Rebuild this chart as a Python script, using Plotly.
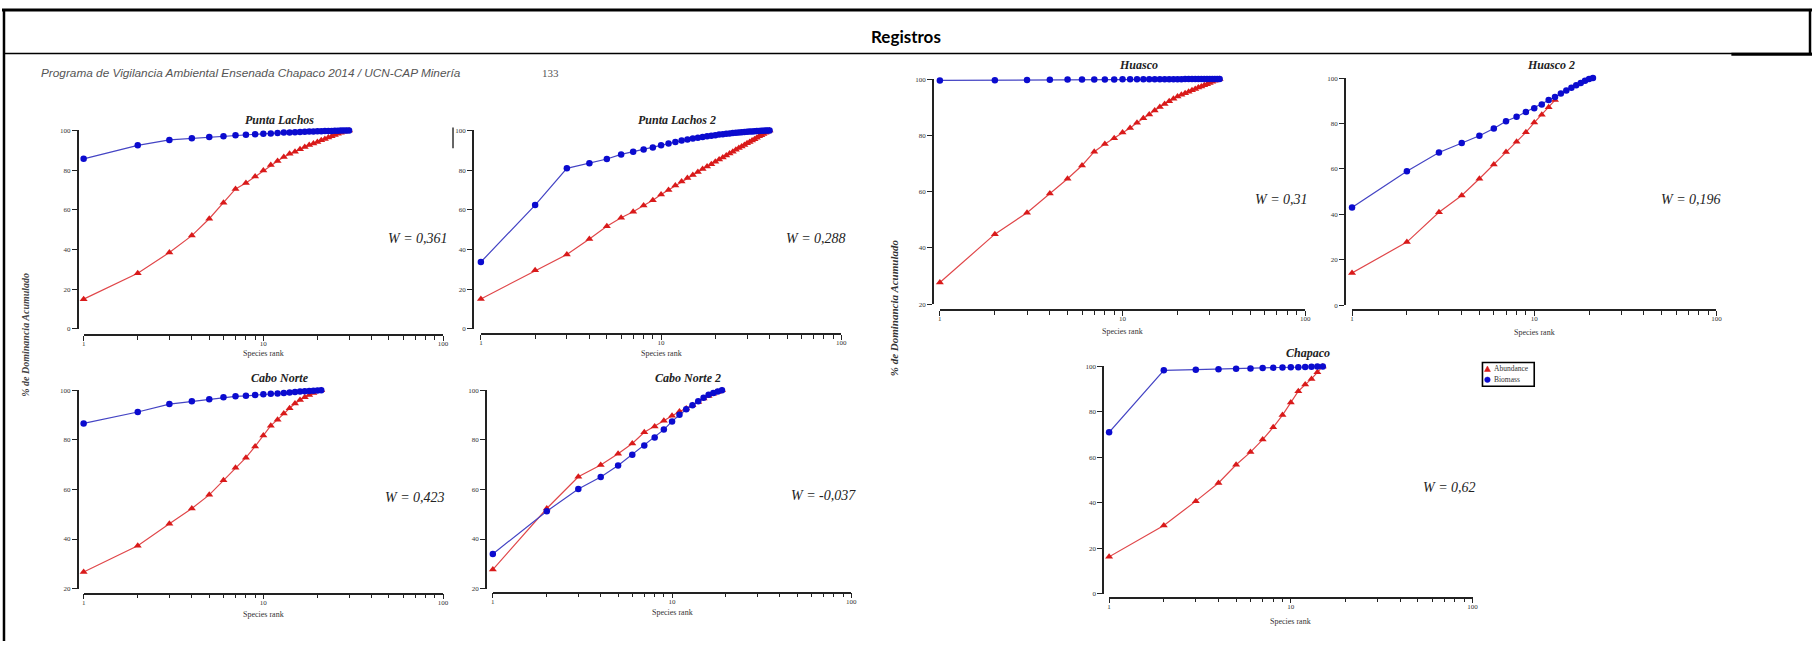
import plotly.graph_objects as go

# ---------------- DATA ----------------
panel_names = ["Punta Lachos", "Punta Lachos 2", "Cabo Norte", "Cabo Norte 2", "Huasco", "Huasco 2", "Chapaco"]
w_labels = ["W = 0,361", "W = 0,288", "W = 0,423", "W = -0,037", "W = 0,31", "W = 0,196", "W = 0,62"]
legend_labels = ["Abundance", "Biomass"]

pl_abund = [15, 28, 38.5, 47, 55.5, 63.5, 70.5, 73.5, 76.8, 79.8, 82.6, 84.6, 86.6, 88.2, 89.3, 90.5,
            91.6, 92.6, 93.4, 94.2, 95.0, 95.7, 96.4, 97.1, 97.7, 98.3, 98.8, 99.3, 99.7, 100]
pl_biom = [85.7, 92.5, 95.2, 96.0, 96.7, 97.0, 97.5, 97.8, 98.1, 98.3, 98.5, 98.7, 98.9, 99.0, 99.1,
           99.2, 99.3, 99.4, 99.5, 99.55, 99.6, 99.65, 99.7, 99.75, 99.8, 99.85, 99.9, 99.95, 99.98, 100]

pl2_abund = [15.1, 29.5, 37.5, 45.3, 51.7, 56.0, 59.0, 62.2, 64.8, 67.7, 70.0, 72.3, 74.3, 76.0, 77.6,
             79.1, 80.5, 81.8, 83.0, 84.2, 85.3, 86.4, 87.4, 88.4, 89.3, 90.2, 91.1, 91.9, 92.7, 93.5,
             94.2, 94.9, 95.6, 96.3, 97.0, 97.6, 98.2, 98.8, 99.4, 100]
pl2_biom = [33.7, 62.4, 80.9, 83.4, 85.6, 87.9, 89.2, 90.4, 91.4, 92.5, 93.4, 94.2, 94.9, 95.4, 95.9,
            96.3, 96.7, 97.0, 97.3, 97.6, 97.9, 98.1, 98.3, 98.5, 98.7, 98.85, 99.0, 99.1, 99.2, 99.3,
            99.4, 99.5, 99.6, 99.65, 99.7, 99.8, 99.85, 99.9, 99.95, 100]

cn_abund = [26.7, 37.3, 46.2, 52.3, 57.8, 63.7, 68.7, 72.8, 77.3, 81.7, 85.7, 88.1, 90.6, 92.7, 94.6,
            96.0, 97.1, 98.0, 98.9, 99.6, 100]
cn_biom = [86.6, 91.2, 94.4, 95.5, 96.3, 97.1, 97.5, 97.7, 98.0, 98.3, 98.5, 98.7, 98.9, 99.1, 99.3,
           99.5, 99.6, 99.7, 99.8, 99.9, 100]

cn2_abund = [27.7, 52.3, 65.1, 69.8, 74.4, 78.5, 83.0, 85.4, 87.7, 89.7, 91.4, 92.6, 93.9, 95.2, 96.6,
             97.6, 98.5, 99.3, 100]
cn2_biom = [34.0, 51.2, 60.2, 65.0, 69.6, 74.0, 77.7, 80.9, 84.1, 87.4, 90.1, 92.3, 93.9, 95.5, 96.9,
            98.1, 98.9, 99.5, 100]

hu_abund = [27.7, 44.9, 52.5, 59.3, 64.6, 69.3, 74.2, 76.9, 79.0, 81.0, 82.6, 84.5, 86.1, 87.4, 88.8,
            90.1, 91.1, 92.1, 93.0, 93.8, 94.4, 95.0, 95.5, 96.0, 96.5, 97.0, 97.4, 97.8, 98.2, 98.6,
            99.0, 99.4, 99.7, 100]
hu_biom = [99.5, 99.6, 99.7, 99.75, 99.8, 99.82, 99.84, 99.86, 99.88, 99.9, 99.91, 99.92, 99.93, 99.94,
           99.95, 99.95, 99.96, 99.96, 99.97, 99.97, 99.97, 99.98, 99.98, 99.98, 99.98, 99.99, 99.99,
           99.99, 99.99, 99.99, 100, 100, 100, 100]

hu2_abund = [14.2, 27.8, 40.9, 48.3, 55.7, 61.9, 67.4, 72.0, 76.1, 80.4, 83.9, 87.2, 90.3]
hu2_biom = [43.0, 59.0, 67.2, 71.4, 74.6, 77.8, 81.0, 83.0, 85.1, 86.7, 88.4, 90.3, 91.7, 93.2, 94.5,
            95.7, 96.8, 97.8, 98.8, 99.6, 100]

ch_abund = [16.2, 30.0, 40.7, 48.7, 56.7, 62.3, 67.8, 73.2, 78.6, 84.1, 89.1, 92.0, 94.5, 97.4, 100]
ch_biom = [71.0, 98.3, 98.6, 98.8, 99.0, 99.1, 99.3, 99.4, 99.5, 99.6, 99.7, 99.8, 99.9, 100, 100]

abund_series = [pl_abund, pl2_abund, cn_abund, cn2_abund, hu_abund, hu2_abund, ch_abund]
biom_series = [pl_biom, pl2_biom, cn_biom, cn2_biom, hu_biom, hu2_biom, ch_biom]
y_mins = [0, 0, 20, 20, 20, 0, 0]

x_major = [1, 10, 100]
x_major_text = ["1", "10", "100"]
x_minor = [2, 3, 4, 5, 6, 7, 8, 9, 20, 30, 40, 50, 60, 70, 80, 90]

# ---------------- LAYOUT (pixel geometry) ----------------
W, H = 1818, 645
def fx(px): return px / W
def fy(py): return 1 - py / H

geom = [
    dict(x1=82, x100=443, yt=128, yb=329, yax=76, xax=335, tx=279, ty=117, wx=418, wy=237, sy=353),
    dict(x1=481, x100=843, yt=128, yb=329, yax=473, xax=334, tx=678, ty=117, wx=818, wy=237, sy=353),
    dict(x1=82, x100=443, yt=391, yb=592, yax=76, xax=597, tx=279, ty=379, wx=415, wy=500, sy=617),
    dict(x1=493, x100=853, yt=391, yb=592, yax=486, xax=596, tx=689, ty=379, wx=825, wy=498, sy=615),
    dict(x1=942, x100=1309, yt=76, yb=304, yax=935, xax=310, tx=1142, ty=62, wx=1285, wy=198, sy=331),
    dict(x1=1356, x100=1722, yt=75, yb=305, yax=1349, xax=310, tx=1556, ty=62, wx=1696, wy=198, sy=332),
    dict(x1=1112, x100=1477, yt=367, yb=597, yax=1106, xax=601, tx=1312, ty=353, wx=1454, wy=490, sy=624),
]

RED_M, RED_L = "#D91A1A", "#E0474A"
BLUE_M, BLUE_L = "#0B0BCF", "#4444C4"
SERIF = "Liberation Serif, Times New Roman, serif"

fig = go.Figure()
layout = dict(
    width=W, height=H, autosize=False,
    margin=dict(l=0, r=0, t=0, b=0),
    paper_bgcolor="white", plot_bgcolor="rgba(0,0,0,0)",
    showlegend=False,
)
annotations = []
shapes = []

for i, g in enumerate(geom):
    k = i + 1
    xa = "x" if k == 1 else f"x{k}"
    ya = "y" if k == 1 else f"y{k}"
    ranks_a = list(range(1, len(abund_series[i]) + 1))
    ranks_b = list(range(1, len(biom_series[i]) + 1))
    fig.add_trace(go.Scatter(
        x=ranks_a, y=abund_series[i], mode="lines+markers", name=legend_labels[0],
        xaxis=xa, yaxis=ya, cliponaxis=False,
        line=dict(color=RED_L, width=1.2),
        marker=dict(symbol="triangle-up", size=7, color=RED_M),
    ))
    fig.add_trace(go.Scatter(
        x=ranks_b, y=biom_series[i], mode="lines+markers", name=legend_labels[1],
        xaxis=xa, yaxis=ya, cliponaxis=False,
        line=dict(color=BLUE_L, width=1.2),
        marker=dict(symbol="circle", size=6.5, color=BLUE_M),
    ))
    ymin = y_mins[i]
    layout["xaxis" if k == 1 else f"xaxis{k}"] = dict(
        type="log", range=[0, 2], domain=[fx(g["x1"]), fx(g["x100"])],
        anchor="free", position=fy(g["xax"]),
        showline=True, linecolor="#222", linewidth=1.6,
        tickmode="array", tickvals=x_major, ticktext=x_major_text,
        ticks="outside", ticklen=5, tickwidth=1.3, tickcolor="#222",
        ticklabelstandoff=-3,
        minor=dict(tickmode="array", tickvals=x_minor, ticks="outside", ticklen=4,
                   tickwidth=1, tickcolor="#222", showgrid=False),
        showgrid=False, zeroline=False, fixedrange=True,
        tickfont=dict(family=SERIF, size=7, color="#333"),
    )
    layout["yaxis" if k == 1 else f"yaxis{k}"] = dict(
        range=[ymin, 100], domain=[fy(g["yb"]), fy(g["yt"])],
        anchor="free", position=fx(g["yax"]),
        showline=True, linecolor="#222", linewidth=1.6,
        tickmode="array", tickvals=list(range(ymin, 101, 20)),
        ticks="outside", ticklen=5, tickwidth=1.3, tickcolor="#222",
        showgrid=False, zeroline=False, fixedrange=True,
        tickfont=dict(family=SERIF, size=7, color="#333"),
    )
    xmid = (g["x1"] + g["x100"]) / 2
    annotations.append(dict(
        text=f"<b><i>{panel_names[i]}</i></b>", x=fx(g["tx"]), y=fy(g["ty"]),
        xref="paper", yref="paper", showarrow=False, xanchor="center", yanchor="middle",
        font=dict(family=SERIF, size=12, color="#222"),
    ))
    annotations.append(dict(
        text=f"<i>{w_labels[i]}</i>", x=fx(g["wx"]), y=fy(g["wy"]),
        xref="paper", yref="paper", showarrow=False, xanchor="center", yanchor="middle",
        font=dict(family=SERIF, size=14, color="#222"),
    ))
    annotations.append(dict(
        text="Species rank", x=fx(xmid), y=fy(g["sy"] + 1),
        xref="paper", yref="paper", showarrow=False, xanchor="center", yanchor="middle",
        font=dict(family=SERIF, size=8, color="#333"),
    ))

# header texts
annotations += [
    dict(text="<b>Registros</b>", x=fx(908), y=fy(33), xref="paper", yref="paper",
         showarrow=False, xanchor="center", yanchor="middle",
         font=dict(family="Lato, Open Sans, sans-serif", size=17, color="black")),
    dict(text="<i>Programa de Vigilancia Ambiental Ensenada Chapaco 2014 / UCN-CAP Minería</i>",
         x=fx(37), y=fy(70), xref="paper", yref="paper", showarrow=False,
         xanchor="left", yanchor="middle",
         font=dict(family="Liberation Sans, Arial, sans-serif", size=11.8, color="#555")),
    dict(text="133", x=fx(551), y=fy(70), xref="paper", yref="paper", showarrow=False,
         xanchor="center", yanchor="middle",
         font=dict(family=SERIF, size=11, color="#555")),
    dict(text="<b><i>% de Dominancia Acumulado</i></b>", x=fx(24), y=fy(335), textangle=-90,
         xref="paper", yref="paper", showarrow=False, xanchor="center", yanchor="middle",
         font=dict(family=SERIF, size=10, color="#444")),
    dict(text="<b><i>% de Dominancia Acumulado</i></b>", x=fx(896), y=fy(308), textangle=-90,
         xref="paper", yref="paper", showarrow=False, xanchor="center", yanchor="middle",
         font=dict(family=SERIF, size=11, color="#333")),
]

# legend (Chapaco panel), drawn as a small boxed key
lg_x0, lg_x1, lg_y0, lg_y1 = 1487, 1539, 363, 387
annotations += [
    dict(text=legend_labels[0], x=fx(lg_x0 + 10), y=fy(lg_y0 + 6.5), xref="paper", yref="paper",
         showarrow=False, xanchor="left", yanchor="middle",
         font=dict(family=SERIF, size=7.5, color="#333")),
    dict(text=legend_labels[1], x=fx(lg_x0 + 10), y=fy(lg_y0 + 17.5), xref="paper", yref="paper",
         showarrow=False, xanchor="left", yanchor="middle",
         font=dict(family=SERIF, size=7.5, color="#333")),
]

def pline(x0, y0, x1, y1, w, c="black"):
    return dict(type="line", xref="paper", yref="paper",
                x0=fx(x0), y0=fy(y0), x1=fx(x1), y1=fy(y1), line=dict(color=c, width=w))

tx, ty = lg_x0 + 5, lg_y0 + 6.5
shapes += [
    dict(type="rect", xref="paper", yref="paper", x0=fx(lg_x0), x1=fx(lg_x1), y0=fy(lg_y1), y1=fy(lg_y0),
         line=dict(color="black", width=1.6), fillcolor="white"),
    dict(type="path", xref="paper", yref="paper",
         path=f"M {fx(tx-3)} {fy(ty+2.6)} L {fx(tx+3)} {fy(ty+2.6)} L {fx(tx)} {fy(ty-3)} Z",
         line=dict(color=RED_M, width=0.5), fillcolor=RED_M),
    dict(type="circle", xref="paper", yref="paper",
         x0=fx(tx - 2.8), x1=fx(tx + 2.8), y0=fy(lg_y0 + 17.5 + 2.8), y1=fy(lg_y0 + 17.5 - 2.8),
         line=dict(color=BLUE_M, width=0.5), fillcolor=BLUE_M),
]

# table borders
shapes += [
    pline(0, 6, 1818, 6, 3),
    pline(2, 5, 2, 645, 2.5),
    pline(1816, 5, 1816, 50, 2.5),
    pline(2, 50, 1818, 50, 1.5),
    pline(1737, 51, 1818, 51, 3),
    pline(453, 125, 453, 146, 1.5, "#333"),
]

layout["annotations"] = annotations
layout["shapes"] = shapes
fig.update_layout(**layout)
fig.write_html("out.html")
